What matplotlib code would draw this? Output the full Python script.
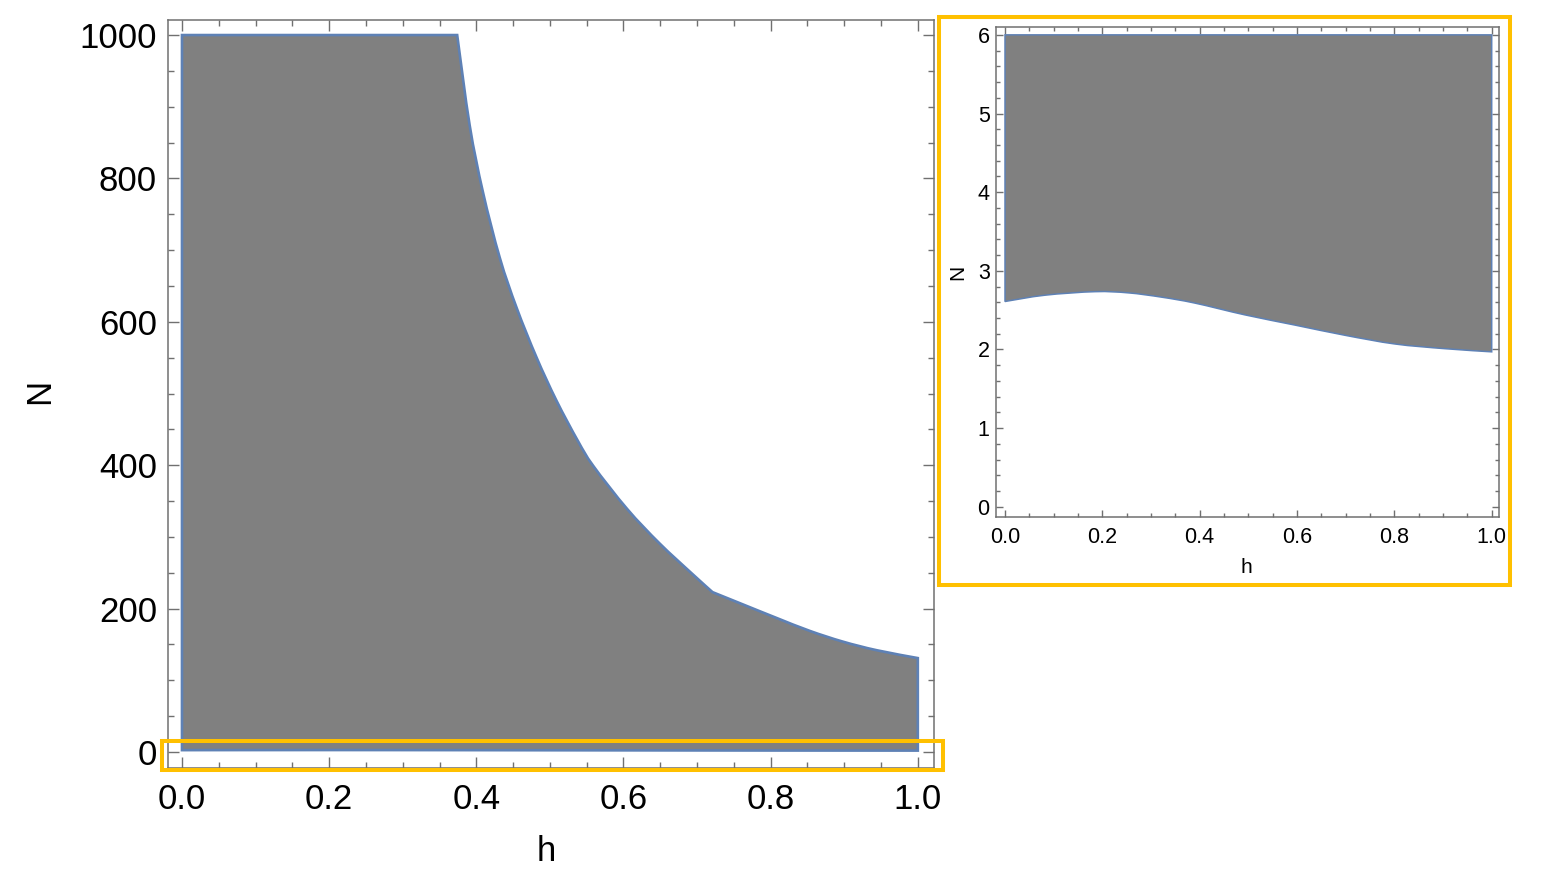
import matplotlib
matplotlib.use("Agg")
import matplotlib.pyplot as plt
import matplotlib.patches as mpatches
import matplotlib.ticker as mticker
from matplotlib.path import Path
import numpy as np

plt.rcParams['font.family'] = ['Liberation Sans', 'DejaVu Sans']

# upper boundary of the region (main panel, capped at 1000 by plot range)
h_upper = [0.0, 0.374, 0.391, 0.409, 0.432, 0.455, 0.482, 0.509, 0.538, 0.559,
           0.605, 0.649, 0.694, 0.721, 0.762, 0.808, 0.853, 0.898, 0.944, 1.0]
n_upper = [1000, 1000, 874, 781, 689, 619, 550, 490, 434, 399,
           339, 291, 248, 223, 206, 187, 169, 154, 142, 131]
KINK = 13  # index of the visible corner in the upper boundary

# lower boundary of the region
h_lower = [0.0, 0.082, 0.185, 0.253, 0.322, 0.390, 0.493, 0.596, 0.699, 0.801, 0.904, 1.0]
n_lower = [2.61, 2.69, 2.735, 2.72, 2.665, 2.59, 2.44, 2.31, 2.18, 2.07, 2.01, 1.97]

inset_top = 6  # plot range cap of the zoomed view

main_xticks = [0.0, 0.2, 0.4, 0.6, 0.8, 1.0]
main_yticks = [0, 200, 400, 600, 800, 1000]
inset_yticks = [0, 1, 2, 3, 4, 5, 6]

FILL = '#808080'
EDGE = '#5E81B5'
FRAME = '#707070'
HILITE = '#FFC000'

W, H = 1544, 875
fig = plt.figure(figsize=(W / 100, H / 100), dpi=100)


def px_axes(left, top, right, bottom):
    return fig.add_axes([left / W, 1 - bottom / H, (right - left) / W, (bottom - top) / H])


def smooth(xs, ys):
    """Bezier segments (Catmull-Rom) running through the given points."""
    p = np.column_stack([xs, ys]).astype(float)
    n = len(p)
    verts = []
    for i in range(n - 1):
        p0, p1 = p[max(i - 1, 0)], p[i]
        p2, p3 = p[i + 1], p[min(i + 2, n - 1)]
        verts += [p1 + (p2 - p0) / 6, p2 - (p3 - p1) / 6, p2]
    return verts, [Path.CURVE4] * len(verts)


def style_frame(ax, major_len, minor_len, label_size, xpad, ypad):
    for sp in ax.spines.values():
        sp.set_color(FRAME)
        sp.set_linewidth(1.1)
    ax.tick_params(which='both', direction='in', top=True, right=True,
                   color=FRAME, width=1.0, labelsize=label_size)
    ax.tick_params(axis='x', pad=xpad)
    ax.tick_params(axis='y', pad=ypad)
    ax.tick_params(which='major', length=major_len)
    ax.tick_params(which='minor', length=minor_len)


# ---- main panel
ax = px_axes(168, 20, 934, 768)
verts = [(h_lower[0], n_lower[0]), (h_upper[0], n_upper[0]), (h_upper[1], n_upper[1])]
codes = [Path.MOVETO, Path.LINETO, Path.LINETO]
for a, b in [(1, KINK + 1), (KINK, len(h_upper))]:
    v, c = smooth(h_upper[a:b], n_upper[a:b])
    verts += v
    codes += c
verts.append((h_lower[-1], n_lower[-1]))
codes.append(Path.LINETO)
v, c = smooth(h_lower[::-1], n_lower[::-1])
verts += v + [(0, 0)]
codes += c + [Path.CLOSEPOLY]
ax.add_patch(mpatches.PathPatch(Path(verts, codes), facecolor=FILL, edgecolor=EDGE,
                                linewidth=1.9, zorder=2))
ax.set_xlim(-0.019, 1.022)
ax.set_ylim(-22.3, 1021)
ax.set_xticks(main_xticks)
ax.set_xticklabels([f"{v:.1f}" for v in main_xticks])
ax.set_yticks(main_yticks)
ax.xaxis.set_minor_locator(mticker.MultipleLocator(0.05))
ax.yaxis.set_minor_locator(mticker.MultipleLocator(50))
style_frame(ax, 8, 4.3, 25, 11, 8)
ax.set_xlabel('h', fontsize=25)
ax.set_ylabel('N', fontsize=25)
ax.xaxis.set_label_coords(0.4935, -0.111)
ax.yaxis.set_label_coords(-0.167, 0.504)
ax.xaxis.label.set_va('center')
ax.yaxis.label.set_va('center')

# ---- zoomed inset
axi = px_axes(996, 27, 1499, 517)
v, c = smooth(h_lower, n_lower)
verts = [(h_lower[0], n_lower[0])] + v + [(h_lower[-1], inset_top), (h_lower[0], inset_top), (0, 0)]
codes = [Path.MOVETO] + c + [Path.LINETO, Path.LINETO, Path.CLOSEPOLY]
axi.add_patch(mpatches.PathPatch(Path(verts, codes), facecolor=FILL, edgecolor=EDGE,
                                 linewidth=1.1, zorder=2))
axi.set_xlim(-0.0185, 1.015)
axi.set_ylim(-0.13, 6.10)
axi.set_xticks(main_xticks)
axi.set_xticklabels([f"{v:.1f}" for v in main_xticks])
axi.set_yticks(inset_yticks)
axi.xaxis.set_minor_locator(mticker.MultipleLocator(0.05))
axi.yaxis.set_minor_locator(mticker.MultipleLocator(0.2))
style_frame(axi, 5, 2.6, 15.5, 7, 4.5)
axi.set_xlabel('h', fontsize=15)
axi.set_ylabel('N', fontsize=15)
axi.xaxis.set_label_coords(0.497, -0.104)
axi.yaxis.set_label_coords(-0.0755, 0.5)
axi.xaxis.label.set_va('center')
axi.yaxis.label.set_va('center')

# ---- highlight boxes
for (l, t, r, b) in [(162, 741, 943, 770), (939, 17, 1510, 585)]:
    fig.patches.append(mpatches.Rectangle((l / W, 1 - b / H), (r - l) / W, (b - t) / H,
                                          transform=fig.transFigure, fill=False,
                                          edgecolor=HILITE, linewidth=2.9, zorder=10))

fig.savefig('out.png', dpi=100, facecolor='white')
